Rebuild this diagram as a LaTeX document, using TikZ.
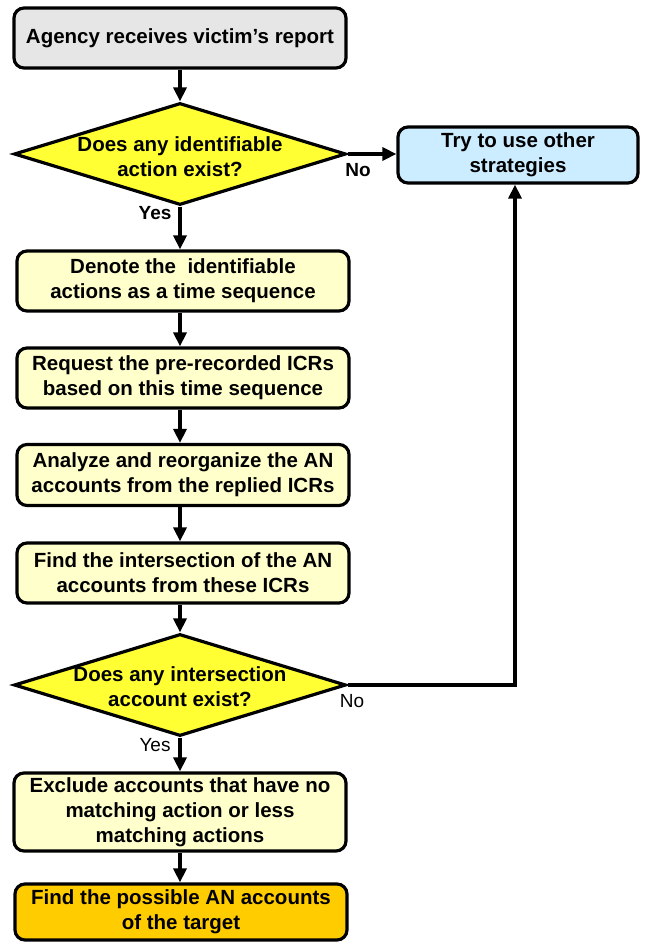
\documentclass[tikz,border=0pt]{standalone}
\usepackage{fontspec}
\setmainfont{Liberation Sans}
\usetikzlibrary{arrows.meta,shapes.geometric,calc}
\definecolor{boxgray}{RGB}{230,230,230}
\definecolor{boxyellow}{RGB}{255,255,204}
\definecolor{diayellow}{RGB}{255,255,51}
\definecolor{boxblue}{RGB}{204,236,255}
\definecolor{boxorange}{RGB}{255,204,0}
\tikzset{
  base/.style={draw=black, line width=3.2pt, rounded corners=10pt, align=center,
    font=\fontsize{20.5}{25}\selectfont\bfseries, inner sep=0pt},
  procbox/.style={base, fill=boxyellow, minimum width=332pt, minimum height=60pt},
  decision/.style={diamond, draw=black, line width=3.2pt, fill=diayellow,
    minimum width=332pt, minimum height=102pt, inner sep=0pt},
  dtext/.style={align=center, font=\fontsize{20.5}{25}\selectfont\bfseries, inner sep=0pt},
  conn/.style={line width=3.2pt, -{Triangle[length=14pt,width=13pt]}},
  lbl/.style={font=\fontsize{19}{20}\selectfont\bfseries, inner sep=0pt},
  lblr/.style={font=\fontsize{19}{20}\selectfont, inner sep=0pt},
}
\begin{document}
\begin{tikzpicture}[x=1pt,y=-1pt]
\useasboundingbox (0,0) rectangle (646,942);
\node[base, fill=boxgray, minimum width=332pt, minimum height=60pt] (top) at (180,38) {Agency receives victim’s report};
\node[decision] (d1) at (180,154) {};
\node[dtext] (d1t) at (180,157) {Does any identifiable\\action exist?};
\node[base, fill=boxblue, minimum width=240pt, minimum height=56pt] (alt) at (518,155) {Try to use other\\strategies};
\node[procbox] (b2) at (183,281) {Denote the \ identifiable\\actions as a time sequence};
\node[procbox] (b3) at (183,378) {Request the pre-recorded ICRs\\based on this time sequence};
\node[procbox, minimum height=61pt] (b4) at (183,475) {Analyze and reorganize the AN\\accounts from the replied ICRs};
\node[procbox] (b5) at (183,573) {Find the intersection of the AN\\accounts from these ICRs};
\node[decision] (d2) at (180,685) {};
\node[dtext] (d2t) at (180,687) {Does any intersection\\account exist?};
\node[procbox, minimum height=78pt] (b6) at (180,812) {Exclude accounts that have no\\matching action or less\\matching actions};
\node[base, fill=boxorange, minimum width=332pt, minimum height=56pt] (b7) at (181,912) {Find the possible AN accounts\\of the target};
\node[lbl] (no1) at (358,170) {No};
\node[lbl] (yes1) at (155,213) {Yes};
\node[lblr] (no2) at (352,701) {No};
\node[lblr] (yes2) at (155,745) {Yes};
\coordinate (c) at (515,685);
\draw[conn] (top.south) -- (d1.north);
\draw[conn] (d1.east) -- (d1.east -| alt.west);
\draw[conn] (d1.south) -- (d1.south |- b2.north);
\draw[conn] (b2.south -| d1.south) -- (b3.north -| d1.south);
\draw[conn] (b3.south -| d1.south) -- (b4.north -| d1.south);
\draw[conn] (b4.south -| d1.south) -- (b5.north -| d1.south);
\draw[conn] (b5.south -| d1.south) -- (d2.north);
\draw[conn] (d2.south) -- (b6.north);
\draw[conn] (b6.south) -- (b6.south |- b7.north);
\draw[conn] (d2.east) -- (c) -- (c |- alt.south);
\end{tikzpicture}
\end{document}
